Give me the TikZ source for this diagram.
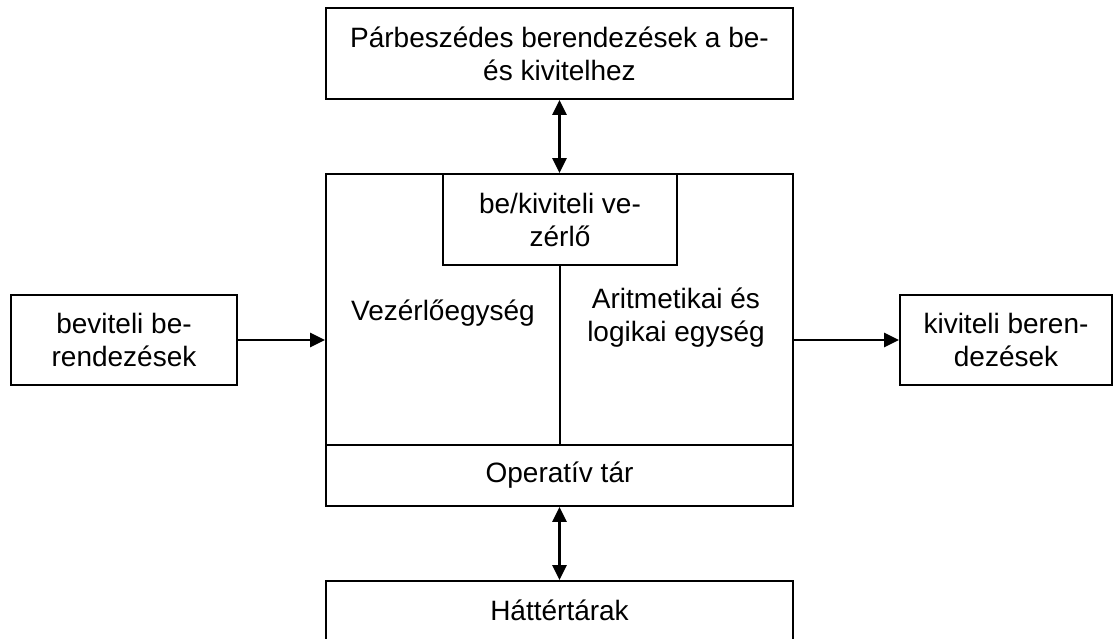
\documentclass[tikz,border=0pt]{standalone}
\usepackage{fontspec}
\setmainfont{Liberation Sans}
\usetikzlibrary{arrows.meta}
\begin{document}
\begin{tikzpicture}[x=1pt,y=-1pt,
  box/.style={draw, line width=1.8pt, rectangle, inner sep=0pt, align=center,
    font=\fontsize{28}{33}\selectfont},
  lbl/.style={inner sep=0pt, align=center, font=\fontsize{28}{33}\selectfont},
  tip/.tip={Triangle[length=15pt,width=14pt]},
  link/.style={line width=2.6pt, -tip},
  duplex/.style={line width=2.6pt, tip-tip}]
\useasboundingbox (0,0) rectangle (1114,639);

% peripheral units
\node[box, minimum width=467pt, minimum height=91pt] (dialog) at (559.5,53.5)
  {Párbeszédes berendezések a be-\\és kivitelhez};
\node[box, minimum width=226pt, minimum height=90pt] (inp) at (124,340)
  {beviteli be-\\rendezések};
\node[box, minimum width=212pt, minimum height=90pt] (outp) at (1006,340)
  {kiviteli beren-\\dezések};
\node[box, minimum width=467pt, minimum height=62pt] (backing) at (559.5,612)
  {};
\node[lbl] (backinglbl) at (559.5,610) {Háttértárak};

% central unit
\node[box, minimum width=467pt, minimum height=332pt] (cpu) at (559.5,340) {};
\node[box, minimum width=234pt, minimum height=91pt] (io) at (560,219.5)
  {be/kiviteli ve-\\zérlő};
\node[box, minimum width=467pt, minimum height=61pt] (mem) at (559.5,475.5)
  {Operatív tár};
\draw[line width=1.8pt] (io.south) -- (io.south |- mem.north);
\node[lbl] (ctrl) at (443,313) {Vezérlőegység};
\node[lbl] (alu) at (676,318) {Aritmetikai és\\logikai egység};

% data paths
\draw[duplex] (dialog.south) -- (cpu.north);
\draw[duplex] (cpu.south) -- (backing.north);
\draw[link] (inp.east) -- (cpu.west);
\draw[link] (cpu.east) -- (outp.west);
\end{tikzpicture}
\end{document}
